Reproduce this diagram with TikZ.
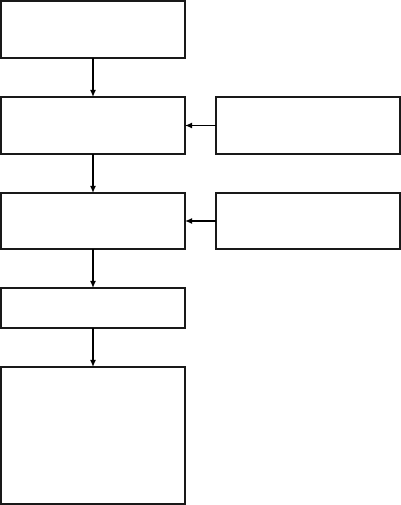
\documentclass[tikz,border=0pt]{standalone}
\usepackage{tikz}
\usetikzlibrary{arrows.meta, positioning}

\begin{document}
\begin{tikzpicture}[
    node distance=0.975cm and 0.775cm,
    line width=0.8pt,
    stage/.style={
        rectangle,
        draw=black!90,
        minimum width=4.6cm,
        minimum height=1.425cm,
        inner sep=0pt,
        outer sep=0pt
    },
    arrow/.style={-{Latex[length=1.8mm, width=1.5mm]}}
]

\useasboundingbox (0,0) rectangle (10.025,-12.625);

\node[stage, anchor=north west] (s1) at (0.025,-0.025) {};
\node[stage, below=of s1] (s2) {};
\node[stage, below=of s2, minimum height=1.4cm] (s3) {};
\node[stage, below=of s3, minimum height=1cm] (s4) {};
\node[stage, below=of s4, minimum height=3.425cm] (s5) {};
\node[stage, right=of s2] (in1) {};
\node[stage, right=of s3, minimum height=1.4cm] (in2) {};

\draw[arrow] (s1) -- (s2);
\draw[arrow] (s2) -- (s3);
\draw[arrow] (s3) -- (s4);
\draw[arrow] (s4) -- (s5);
\draw[arrow] (in1) -- (s2);
\draw[arrow] (in2) -- (s3);

\end{tikzpicture}
\end{document}
